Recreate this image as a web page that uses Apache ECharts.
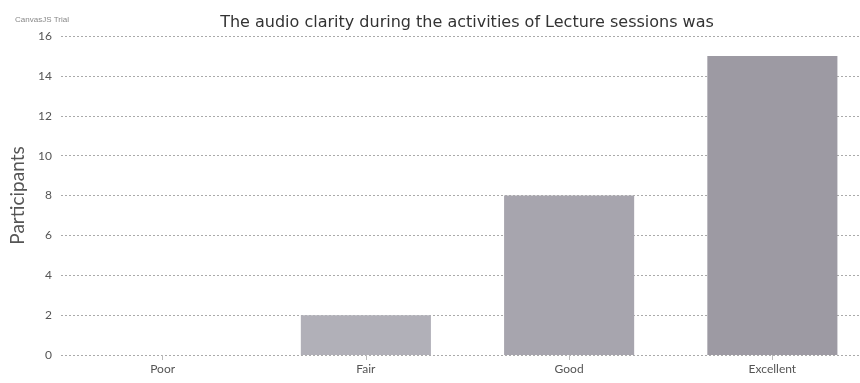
<!DOCTYPE html>
<html>
<head>
<meta charset="utf-8">
<script src="https://cdn.jsdelivr.net/npm/echarts@6/dist/echarts.min.js"></script>
<style>html,body{margin:0;padding:0;background:#fff;overflow:hidden}#c{width:874px;height:383px}</style>
</head>
<body>
<div id="c"></div>
<script>
const categories = ['Poor', 'Fair', 'Good', 'Excellent'];
const participants = [0, 2, 8, 15];
const yTicks = [0, 2, 4, 6, 8, 10, 12, 14, 16];

const barColors = ['#a3a1ab', '#b1b0b8', '#a7a5ae', '#9d9aa3'];
const chart = echarts.init(document.getElementById('c'));
chart.setOption({
  backgroundColor: '#ffffff',
  animation: false,
  title: [{
    text: 'The audio clarity during the activities of Lecture sessions was',
    left: 462, top: 10, textAlign: 'center',
    textStyle: { fontFamily: 'DejaVu Sans', fontSize: 16, fontWeight: 'normal', color: '#333' }
  }, {
    text: 'CanvasJS Trial', left: 10, top: 11,
    textStyle: { fontFamily: 'Liberation Sans', fontSize: 8, fontWeight: 'normal', color: '#888' }
  }],
  grid: { left: 61, right: 0, top: 36, bottom: 28, containLabel: false },
  xAxis: {
    type: 'category', data: categories,
    axisLine: { show: false },
    axisTick: { show: true, alignWithLabel: true, length: 5, lineStyle: { color: '#bbb' } },
    axisLabel: { fontFamily: 'Lato', fontSize: 12, color: '#555', margin: 8 }
  },
  yAxis: {
    type: 'value', min: yTicks[0], max: yTicks[yTicks.length - 1], interval: 2,
    name: 'Participants', nameLocation: 'middle', nameGap: 28,
    nameTextStyle: { fontFamily: 'Lato', fontSize: 19, color: '#555' },
    axisLine: { show: false }, axisTick: { show: false },
    axisLabel: { fontFamily: 'Lato', fontSize: 12, color: '#555', margin: 9 },
    splitLine: { lineStyle: { color: '#aaa', type: [2, 2], width: 1 } }
  },
  series: [{
    type: 'bar', data: participants, barWidth: '64%',
    itemStyle: { color: p => barColors[p.dataIndex] }
  }]
});
</script>
</body>
</html>
